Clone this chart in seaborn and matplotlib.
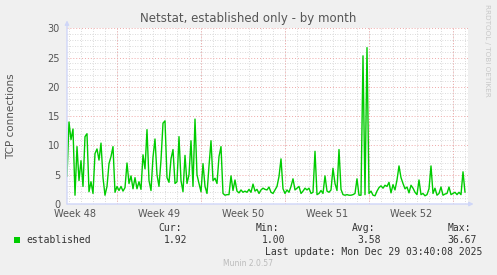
import numpy as np
import pandas as pd
import matplotlib
matplotlib.use("Agg")
import matplotlib.pyplot as plt
import matplotlib.dates as mdates
from matplotlib.patches import Rectangle
import seaborn as sns

# ---------------- data ----------------
title = "Netstat, established only - by month"
ylabel = "TCP connections"
series_name = "established"
y_ticks = [0, 5, 10, 15, 20, 25, 30]
series_start = "2025-11-26 20:36"
sample_step = "4h"
view_start = "2025-11-26 20:36"
view_end = "2025-12-30 06:36"
first_week_start = "2025-11-24"

established = [
    4.7, 14.0, 11.0, 12.8, 1.5, 9.8, 4.0, 7.4, 3.0, 11.5, 12.0, 2.1, 3.8,
    1.8, 8.6, 9.4, 7.5, 10.4, 4.5, 1.5, 3.0, 6.9, 8.1, 9.8, 2.0,
    3.0, 2.3, 3.0, 2.2, 2.8, 7.0, 3.5, 4.8, 2.6, 4.5, 2.6, 3.8, 2.5,
    8.4, 6.0, 12.7, 4.0, 2.3, 8.0, 11.1, 5.0, 3.0, 7.5, 13.8, 14.2,
    4.5, 3.7, 7.7, 9.3, 3.5, 3.8, 11.5, 4.0, 2.1, 8.3, 3.5, 5.0, 10.8,
    3.0, 14.5, 5.0, 3.5, 2.1, 6.9, 3.0, 1.8, 6.5, 10.8, 4.0, 4.4,
    3.5, 8.1, 9.8, 1.8, 1.5, 1.6, 1.6, 4.8, 2.3, 4.1, 2.2, 1.9, 2.4,
    2.0, 2.2, 2.0, 2.5, 2.0, 3.4, 2.2, 2.5, 1.8, 2.4, 2.7, 2.5,
    2.4, 2.9, 2.0, 1.8, 2.4, 3.0, 4.7, 7.7, 2.6, 1.8, 2.4, 2.0, 3.0,
    4.3, 2.4, 2.7, 3.0, 1.8, 2.2, 2.7, 2.4, 2.7, 1.8, 2.0, 9.0,
    1.6, 1.8, 2.3, 1.8, 4.8, 2.2, 2.0, 2.4, 6.1, 3.5, 2.3, 9.3, 2.5,
    1.6, 1.5, 1.6, 1.5, 1.5, 1.6, 1.8, 4.3, 1.5, 1.5, 25.3, 1.6,
    26.7, 1.8, 2.2, 1.5, 1.4, 2.2, 2.8, 3.1, 2.7, 3.2, 3.0, 3.7, 1.9,
    3.3, 2.4, 4.1, 6.5, 4.5, 3.5, 2.6, 2.9, 1.9, 3.2, 2.7, 2.0,
    1.6, 4.1, 1.6, 1.8, 1.4, 1.6, 2.6, 6.5, 1.8, 2.7, 1.5, 1.8, 2.9,
    1.5, 1.7, 1.8, 2.9, 1.6, 1.8, 2.0, 1.6, 2.0, 1.6, 5.5, 2.0,
]

stats_labels = ["Cur:", "Min:", "Avg:", "Max:"]
stats_values = ["1.92", "1.00", "3.58", "36.67"]
last_update = "Last update: Mon Dec 29 03:40:08 2025"
footer = "Munin 2.0.57"
side_text = "RRDTOOL / TOBI OETIKER"

# ---------------- styling ----------------
W, H = 497, 275
BG = "#F0F0F0"
LINE = "#00CC00"
AXIS = "#CFD6F8"
MINOR = "#CFCFCF"
MAJOR = "#EFA8A8"
FONT = "#555555"

sns.set_theme(style="white")
plt.rcParams["font.family"] = ["DejaVu Sans"]

times = pd.date_range(series_start, periods=len(established), freq=sample_step)
df = pd.DataFrame({"time": times, series_name: established})

fig = plt.figure(figsize=(W / 100, H / 100), dpi=100, facecolor=BG)
ax = fig.add_axes([67 / W, 71 / H, 401 / W, 175.7 / H])
ax.set_facecolor("white")

vs, ve = pd.Timestamp(view_start), pd.Timestamp(view_end)
week_starts = pd.date_range(first_week_start, periods=6, freq="7D")

# grid
ax.set_ylim(0, 30)
ax.set_xlim(vs, ve)
ax.set_yticks(y_ticks)
ax.set_yticks(range(0, 31), minor=True)
ax.xaxis.set_minor_locator(mdates.DayLocator())
ax.grid(False)
ax.grid(which="minor", color=MINOR, linestyle=(0, (1, 2)), linewidth=0.6, zorder=0)
ax.yaxis.grid(True, which="major", color=MAJOR, linestyle=(0, (1, 2)), linewidth=0.7, zorder=1)
for ws in week_starts:
    if vs < ws < ve:
        ax.axvline(ws, color=MAJOR, linestyle=(0, (1, 2)), linewidth=0.7, zorder=1)

# week labels at week centres
centers = [ws + pd.Timedelta(hours=84) for ws in week_starts]
centers = [c for c in centers if vs < c < ve]
ax.set_xticks(centers)
ax.set_xticklabels([f"Week {c.isocalendar()[1]}" for c in centers])

sns.lineplot(data=df, x="time", y=series_name, ax=ax, color=LINE, linewidth=1.0, zorder=3)
ax.set_xlabel("")
ax.set_ylabel("")

ax.tick_params(axis="both", which="both", length=0, labelsize=7, labelcolor=FONT)
ax.tick_params(axis="y", pad=5)
ax.tick_params(axis="x", pad=3.5)
for s in ax.spines.values():
    s.set_visible(False)

# axes with arrows
ax.annotate("", xy=(0, 1.045), xytext=(0, 0), xycoords="axes fraction",
            arrowprops=dict(arrowstyle="-|>", color=AXIS, lw=1, mutation_scale=6,
                            shrinkA=0, shrinkB=0), annotation_clip=False, zorder=4)
ax.annotate("", xy=(1.014, 0), xytext=(0, 0), xycoords="axes fraction",
            arrowprops=dict(arrowstyle="-|>", color=AXIS, lw=1, mutation_scale=6,
                            shrinkA=0, shrinkB=0), annotation_clip=False, zorder=4)

def px(x, y):
    return x / W, 1 - y / H

fig.text(*px(248.5, 18.5), title, ha="center", va="center", fontsize=8.5, color=FONT)
fig.text(*px(11, 116), ylabel, ha="center", va="center", rotation=90, fontsize=7.5, color=FONT)
fig.text(*px(487, 4), side_text, ha="center", va="top", rotation=270, fontsize=5.2, color="#C8C8C8")

mono = "DejaVu Sans Mono"
fig.patches.append(Rectangle(px(14, 243), 6 / W, 6 / H, transform=fig.transFigure,
                             facecolor=LINE, edgecolor="none"))
fig.text(*px(26, 240), series_name, ha="left", va="center", fontsize=7, family=mono, color="#333333")
label_right = [182, 279, 375, 471]
value_right = [187, 285, 381, 477]
for lab, val, xl, xv in zip(stats_labels, stats_values, label_right, value_right):
    fig.text(*px(xl, 228), lab, ha="right", va="center", fontsize=7, family=mono, color="#333333")
    fig.text(*px(xv, 240), val, ha="right", va="center", fontsize=7, family=mono, color="#333333")
fig.text(*px(482, 252), last_update, ha="right", va="center", fontsize=7, family=mono, color="#333333")
fig.text(*px(248, 264), footer, ha="center", va="center", fontsize=5.5, color="#BBBBBB")

fig.savefig("out.png", dpi=100, facecolor=BG)
